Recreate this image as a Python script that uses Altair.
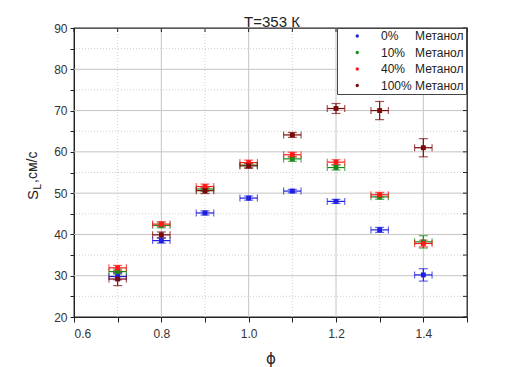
import altair as alt
import pandas as pd

phi = [0.7, 0.8, 0.9, 1.0, 1.1, 1.2, 1.3, 1.4]
NB = "\u00a0"
series_names = ["0%" + NB * 5 + "Метанол", "10%" + NB * 3 + "Метанол",
                "40%" + NB * 3 + "Метанол", "100%" + NB + "Метанол"]
colors = ["#1f1fe0", "#1a8a1a", "#ff1a1a", "#7a0a0a"]

s0 = [29.8, 38.5, 45.2, 48.8, 50.5, 48.0, 41.1, 30.2]
e0 = [0.8, 0.6, 0.5, 0.5, 0.4, 0.5, 0.6, 1.5]
s10 = [31.0, 42.2, 51.0, 56.8, 58.3, 56.2, 49.1, 38.2]
e10 = [0.6, 0.6, 0.6, 0.6, 0.6, 0.6, 0.6, 1.5]
s40 = [31.9, 42.5, 51.6, 57.4, 59.3, 57.5, 49.6, 37.8]
e40 = [0.6, 0.6, 0.6, 0.6, 0.6, 0.6, 0.6, 0.8]
s100 = [29.2, 39.9, 50.6, 56.6, 64.1, 70.5, 70.0, 61.0]
e100 = [1.6, 0.7, 0.7, 0.6, 0.6, 1.2, 2.2, 2.2]
xerr = 0.02

x_major_grid = [0.8, 1.0, 1.2, 1.4]
x_minor_grid = [0.7, 0.9, 1.1, 1.3]
y_major_grid = [30, 40, 50, 60, 70, 80]
y_minor_grid = [25, 35, 45, 55, 65, 75, 85]
x_ticks = [0.6, 0.7, 0.8, 0.9, 1.0, 1.1, 1.2, 1.3, 1.4, 1.5]
y_ticks = [20, 25, 30, 35, 40, 45, 50, 55, 60, 65, 70, 75, 80, 85, 90]
title_text = "T=353 К"

rows = []
for i, (name, vals, errs) in enumerate(zip(series_names, [s0, s10, s40, s100], [e0, e10, e40, e100])):
    for p, v, e in zip(phi, vals, errs):
        rows.append({"series": name, "sid": i, "phi": p, "val": v, "ylo": v - e, "yhi": v + e,
                     "xlo": p - xerr, "xhi": p + xerr})
df = pd.DataFrame(rows)

FONT = "Liberation Sans"
xs = alt.Scale(domain=[0.6, 1.5], nice=False, zero=False)
ys = alt.Scale(domain=[20, 90], nice=False, zero=False)
cscale = alt.Scale(domain=series_names, range=colors)
iscale = alt.Scale(domain=[0, 1, 2, 3], range=colors)

XAX = alt.Axis(values=x_ticks, grid=False, tickSize=5, tickColor="#222",
               domainColor="#222", labelFont=FONT, labelFontSize=12,
               labelColor="#333", labelPadding=6,
               labelExpr="(round(datum.value*10) % 2 == 0 && datum.value < 1.45) ? format(datum.value, '.1f') : ''",
               titleFont="DejaVu Sans", titleFontSize=15, titleFontWeight="normal",
               titleColor="#222", titlePadding=12)
YAX = alt.Axis(values=y_ticks, grid=False, tickSize=4, tickColor="#222",
               domainColor="#222", labelFont=FONT, labelFontSize=12,
               labelColor="#333", labelPadding=3,
               labelExpr="(datum.value % 10 == 0) ? format(datum.value, 'd') : ''")

def X(f):
    return alt.X(f"{f}:Q", scale=xs, axis=XAX, title="ϕ")

def Y(f):
    return alt.Y(f"{f}:Q", scale=ys, axis=YAX, title=None)

stroke_nl = alt.Stroke("sid:O", scale=iscale, legend=None)
fill_nl = alt.Fill("sid:O", scale=iscale, legend=None)

def gx(vals, dash):
    d = pd.DataFrame({"g": vals})
    if dash:
        m = alt.Chart(d).mark_rule(color="#cfcfcf", strokeWidth=1, strokeDash=dash)
    else:
        m = alt.Chart(d).mark_rule(color="#c4c4c4", strokeWidth=1)
    return m.encode(x=X("g"))

def gy(vals, dash):
    d = pd.DataFrame({"g": vals})
    if dash:
        m = alt.Chart(d).mark_rule(color="#cfcfcf", strokeWidth=1, strokeDash=dash)
    else:
        m = alt.Chart(d).mark_rule(color="#c4c4c4", strokeWidth=1)
    return m.encode(y=Y("g"))

grids = [gx(x_major_grid, None), gx(x_minor_grid, [1, 2]),
         gy(y_major_grid, None), gy(y_minor_grid, [1, 2])]

# inward ticks on top and right borders
tx = pd.DataFrame({"t": x_ticks})
ty = pd.DataFrame({"t": y_ticks})
top_ticks = alt.Chart(tx).mark_rule(color="#222", strokeWidth=1).encode(
    x=X("t"), y=alt.value(0), y2=alt.value(4))
right_ticks = alt.Chart(ty).mark_rule(color="#222", strokeWidth=1).encode(
    y=Y("t"), x=alt.value(393), x2=alt.value(389))

base = alt.Chart(df)

yerr = base.mark_rule(strokeWidth=1.2).encode(x=X("phi"), y=Y("ylo"), y2="yhi:Q", stroke=stroke_nl)
ycap1 = base.mark_tick(orient="horizontal", size=9, thickness=1.2).encode(x=X("phi"), y=Y("ylo"), fill=fill_nl)
ycap2 = base.mark_tick(orient="horizontal", size=9, thickness=1.2).encode(x=X("phi"), y=Y("yhi"), fill=fill_nl)
xerr_r = base.mark_rule(strokeWidth=1.2).encode(x=X("xlo"), x2="xhi:Q", y=Y("val"), stroke=stroke_nl)
xcap1 = base.mark_tick(orient="vertical", size=7, thickness=1.2).encode(x=X("xlo"), y=Y("val"), fill=fill_nl)
xcap2 = base.mark_tick(orient="vertical", size=7, thickness=1.2).encode(x=X("xhi"), y=Y("val"), fill=fill_nl)

# legend dot: small circle drawn right of the symbol origin
DOT = "M 5.3 0 A 0.82 0.82 0 1 0 6.94 0 A 0.82 0.82 0 1 0 5.3 0 Z"

points = base.mark_square(size=24, opacity=1).encode(
    x=X("phi"), y=Y("val"),
    color=alt.Color("series:N", scale=cscale,
                    legend=alt.Legend(title=None, orient="none", legendX=263, legendY=0,
                                      symbolType=DOT, symbolSize=16, symbolStrokeWidth=0,
                                      labelOffset=30, padding=2,
                                      rowPadding=4.5, labelFont=FONT, labelFontSize=12,
                                      labelColor="#222", labelLimit=300,
                                      strokeColor="#444", fillColor="white")),
)

def ytext(t, x, y, size):
    return alt.Chart(pd.DataFrame({"t": [t]})).mark_text(
        angle=270, align="left", baseline="middle", font=FONT, fontSize=size, color="#222"
    ).encode(text="t:N", x=alt.value(x), y=alt.value(y))

ylab = [ytext("S", -41, 172, 15), ytext("L", -36, 161.5, 10), ytext(",см/с", -41, 155, 14)]

title = alt.Chart(pd.DataFrame({"t": [title_text]})).mark_text(
    align="center", baseline="alphabetic", font=FONT, fontSize=15, color="#222"
).encode(text="t:N", x=alt.value(198), y=alt.value(-1))

chart = alt.layer(
    *grids, top_ticks, right_ticks,
    yerr, ycap1, ycap2, xerr_r, xcap1, xcap2, points, *ylab, title
).properties(
    width=393, height=289,
    background="white",
    autosize=alt.AutoSizeParams(type="none"),
    padding={"left": 66, "top": 20, "right": 30, "bottom": 50},
).configure_view(stroke="#222", strokeWidth=1.3)

chart.save("out.html", embed_options={"renderer": "svg", "actions": False})
